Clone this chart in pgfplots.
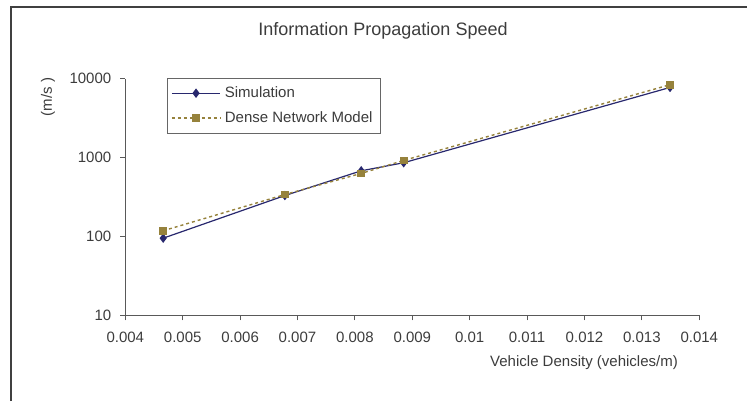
\documentclass[border=0pt]{standalone}
\usepackage{fontspec}
\setmainfont{Liberation Sans}
\usepackage{pgfplots}
\pgfplotsset{compat=1.18}

\definecolor{simblue}{RGB}{40,40,110}
\definecolor{denseolive}{RGB}{150,130,60}
\definecolor{txtgray}{RGB}{60,60,60}

\begin{document}
\begin{tikzpicture}
\useasboundingbox (0,0) rectangle (373.5pt,-200.5pt);
% outer frame (only top and left edges visible)
\draw[line width=1pt, black!75] (5.5pt,-200.5pt) -- (5.5pt,-3.5pt) -- (373.5pt,-3.5pt);

\begin{axis}[
    at={(62.65pt,-157.65pt)},
    anchor=south west,
    scale only axis,
    width=287pt,
    height=118.3pt,
    ymode=log,
    xmin=0.004, xmax=0.014,
    ymin=10, ymax=10000,
    xtick={0.004,0.005,0.006,0.007,0.008,0.009,0.01,0.011,0.012,0.013,0.014},
    scaled x ticks=false,
    ytick={10,100,1000,10000},
    yticklabels={10,100,1000,10000},
    yminorticks=false,
    /pgf/number format/assume math mode=true,
    xticklabel style={/pgf/number format/fixed, /pgf/number format/precision=3, yshift=-2.5pt},
    yticklabel style={xshift=-1pt},
    axis x line*=bottom,
    axis y line*=left,
    axis line style={black!65, line width=0.6pt},
    tick align=outside,
    major tick length=2.5pt,
    tick style={black!65, line width=0.5pt},
    ticklabel style={font=\fontsize{7.5}{9}\selectfont, text=txtgray},
    legend style={
        at={(0.072,1.004)}, anchor=north west,
        draw=black!60, line width=0.5pt,
        font=\fontsize{7.5}{9}\selectfont, text=txtgray,
        row sep=1.5pt, inner sep=2pt,
    },
    legend cell align=left,
    legend image code/.code={
        \draw[#1] (0cm,0cm) -- (0.85cm,0cm);
        \draw[#1, solid] plot coordinates {(0.425cm,0cm)};
    },
]
\addplot[color=simblue, line width=0.6pt, mark=diamond*, mark size=1.9pt,
    mark options={fill=simblue, solid}]
    coordinates {(0.00466,95) (0.00678,330) (0.00811,680) (0.00885,860) (0.01349,7750)};
\addlegendentry{Simulation}
\addplot[color=denseolive, line width=0.7pt, dash pattern=on 1.5pt off 1.5pt,
    mark=square*, mark size=1.6pt, mark options={fill=denseolive, solid}]
    coordinates {(0.00466,118) (0.00678,340) (0.00811,630) (0.00885,920) (0.01349,8400)};
\addlegendentry{Dense Network Model}
\end{axis}

\node[font=\fontsize{9}{11}\selectfont, text=txtgray] at (191.5pt,-15.5pt) {Information Propagation Speed};
\node[font=\fontsize{7.5}{9}\selectfont, text=txtgray, rotate=90] at (24pt,-48.5pt) {(m/s )};
\node[font=\fontsize{7.5}{9}\selectfont, text=txtgray] at (292pt,-181.4pt) {Vehicle Density (vehicles/m)};
\end{tikzpicture}
\end{document}
